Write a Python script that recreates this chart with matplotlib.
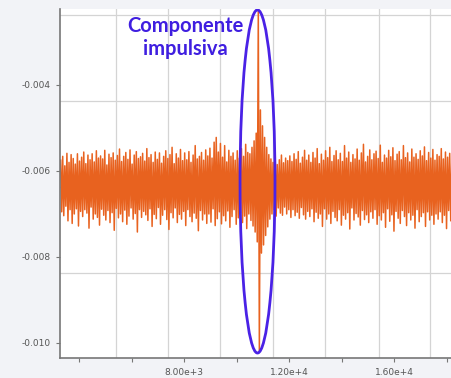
import numpy as np
import matplotlib
matplotlib.use("Agg")
import matplotlib.pyplot as plt
from matplotlib.patches import Ellipse

# sampled signal, units of 1e-5, one sample every X_STEP starting at X_START
X_START = 3300
X_STEP = 40
signal = [
    -575, -695, -566, -704, -588, -682, -559, -716, -580, -690, -562, -722, -571, -700, -584, -688, -560, -728, -577, -694,
    -568, -706, -556, -690, -583, -698, -563, -733, -574, -684, -560, -712, -579, -700, -553, -708, -570, -726, -565, -689,
    -572, -703, -552, -714, -586, -692, -561, -720, -569, -697, -558, -738, -575, -687, -564, -709, -549, -700, -578, -718,
    -566, -691, -557, -724, -573, -705, -551, -686, -584, -712, -563, -699, -555, -742, -571, -690, -567, -708, -559, -694,
    -577, -702, -548, -715, -569, -688, -562, -729, -580, -701, -556, -711, -573, -685, -558, -724, -582, -703, -566, -690,
    -553, -713, -571, -736, -562, -697, -545, -709, -583, -686, -560, -720, -570, -701, -550, -712, -576, -694, -558, -727,
    -574, -690, -555, -706, -580, -718, -563, -698, -541, -710, -572, -739, -566, -692, -557, -714, -575, -700, -551, -722,
    -565, -700, -547, -719, -570, -688, -533, -727, -522, -711, -556, -695, -536, -723, -568, -704, -541, -716, -579, -693,
    -552, -731, -566, -706, -558, -690, -575, -724, -553, -709, -570, -698, -548, -720, -566, -705, -538, -734, -557, -700,
    -560, -715, -545, -728, -530, -742, -512, -765, -226, -1021, -458, -791, -495, -772, -522, -750, -545, -730, -562, -712,
    -572, -700, -580, -690, -566, -705, -585, -686, -574, -698, -563, -703, -581, -684, -570, -700, -576, -690, -565, -708,
    -578, -690, -560, -704, -573, -696, -555, -710, -582, -685, -568, -702, -552, -712, -575, -694, -563, -706, -580, -688,
    -557, -718, -570, -696, -548, -710, -583, -700, -561, -729, -575, -688, -553, -712, -569, -700, -545, -722, -578, -694,
    -564, -708, -553, -716, -574, -690, -559, -726, -578, -703, -541, -712, -570, -697, -556, -735, -580, -686, -562, -714,
    -572, -699, -549, -707, -575, -726, -558, -692, -538, -713, -579, -702, -566, -720, -551, -695, -574, -710, -560, -690,
    -554, -724, -571, -704, -540, -714, -580, -697, -563, -731, -570, -688, -552, -717, -567, -702, -546, -740, -576, -694,
    -561, -710, -555, -722, -574, -692, -541, -706, -569, -727, -558, -697, -579, -714, -549, -703, -568, -733, -560, -690,
    -573, -718, -553, -706, -565, -697, -544, -729, -576, -695, -557, -714, -570, -703, -550, -724, -575, -700, -562, -712,
    -566, -695, -548, -720, -572, -703, -556, -734, -568, -692, -559, -716, -577, -707, -551, -726, -565, -699, -571, -715,
]

x_ticks = [4000, 6000, 8000, 10000, 12000, 14000, 16000, 18000]
x_tick_labels = ["", "", "8.00e+3", "", "1.20e+4", "", "1.60e+4", ""]
y_ticks = [-0.004, -0.006, -0.008, -0.010]
y_tick_labels = ["-0.004", "-0.006", "-0.008", "-0.010"]
grid_x = [5400, 7390, 9370, 11370, 13360, 15400, 17350]
grid_y = [-0.00237, -0.00437, -0.00637, -0.00837]

y = np.array(signal) / 1e5
x = X_START + X_STEP * np.arange(len(y))

fig = plt.figure(figsize=(4.52, 3.78), dpi=100, facecolor="#f2f3f7")
ax = fig.add_axes([60/452, 20/378, 392/452, 349/378])
ax.set_facecolor("white")

ax.plot(x, y, color="#e8621f", lw=1.1, zorder=2)

ax.set_xlim(3277, 18188)
ax.set_ylim(-0.01035, -0.002233)

ax.set_xticks(x_ticks)
ax.set_xticklabels(x_tick_labels)
ax.set_yticks(y_ticks)
ax.set_yticklabels(y_tick_labels)
ax.set_xticks(grid_x, minor=True)
ax.set_yticks(grid_y, minor=True)
ax.tick_params(which="minor", length=0)
ax.tick_params(which="major", length=3, width=0.8, color="#777777",
               labelsize=6.5, labelcolor="#555555", pad=4)
ax.grid(False)
ax.grid(which="minor", color="#d4d4d4", lw=0.9, zorder=0)

for s in ["top", "right"]:
    ax.spines[s].set_visible(False)
for s in ["left", "bottom"]:
    ax.spines[s].set_color("#777777")
    ax.spines[s].set_linewidth(1.2)

ell = Ellipse((10790, -0.006244), 1330, 0.00798, fill=False,
              edgecolor="#4a22e6", lw=2, zorder=3)
ax.add_patch(ell)

ax.text(8032, -0.00289, "Componente\nimpulsiva", ha="center", va="center",
        fontsize=14.5, fontweight="bold", family="Lato", color="#3f1ee0",
        linespacing=1.2, zorder=4)

fig.savefig("out.png", dpi=100, facecolor=fig.get_facecolor())
